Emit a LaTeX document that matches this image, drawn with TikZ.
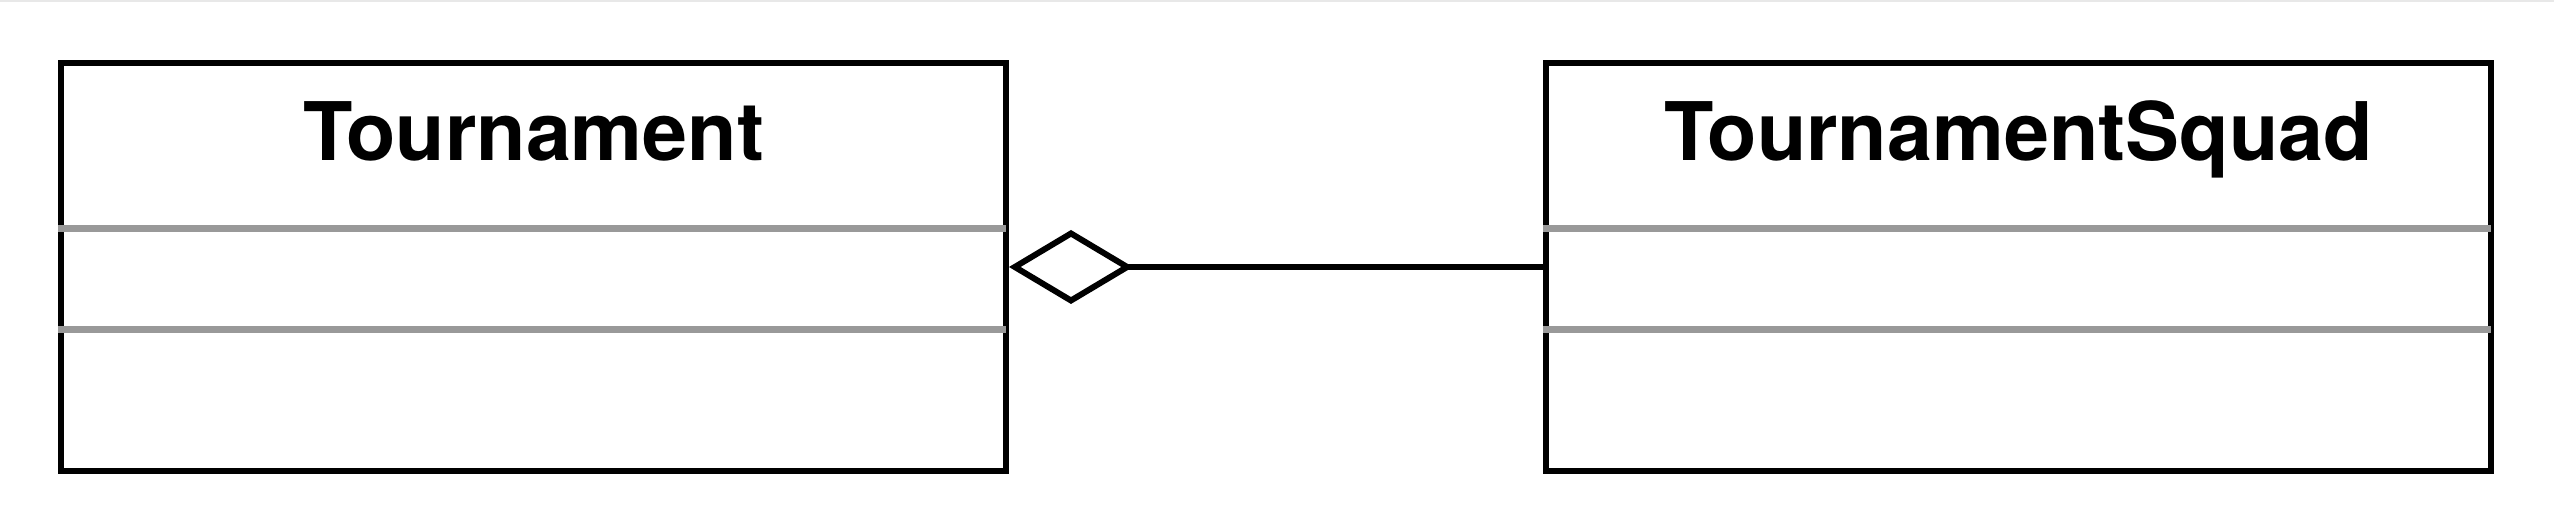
\documentclass[tikz,border=0pt]{standalone}
\usepackage{fontspec}
\setmainfont{TeX Gyre Heros}
\usepackage{xcolor}
\usepackage{tikz}
\usetikzlibrary{arrows.meta, positioning}
\definecolor{UMLGray}{RGB}{153,153,153}
\definecolor{EdgeGray}{RGB}{232,232,232}

\begin{document}
\begin{tikzpicture}[
    classbox/.style={rectangle, draw=black, line width=1.7pt, minimum width=9.45cm, minimum height=4.075cm, inner sep=0pt},
    title/.style={anchor=base, font=\fontsize{23}{28}\selectfont\bfseries},
    divider/.style={draw=UMLGray, line width=1.9pt},
    aggr/.style={line width=1.7pt, {Diamond[open, fill=white, length=1.24cm, width=0.74cm]}-}
]
\useasboundingbox (0,0) rectangle (25.54,5.32);
\draw[EdgeGray, line width=0.6pt] (0,5.31) -- (25.54,5.31);

\node[classbox] (tour) at (5.335,2.65) {};
\node[classbox] (squad) at (20.185,2.65) {};

\node[title] (tourTitle) at ([yshift=-1cm]tour.north) {Tournament};
\node[title] (squadTitle) at ([yshift=-1cm]squad.north) {TournamentSquad};

% attribute and operation compartments
\foreach \cls in {tour, squad} {
  \draw[divider] ([yshift=-1.68cm]\cls.north west) -- ([xshift=-0.85pt, yshift=-1.68cm]\cls.north east);
  \draw[divider] ([yshift=-2.69cm]\cls.north west) -- ([xshift=-0.85pt, yshift=-2.69cm]\cls.north east);
}

\draw[aggr] (tour.east) -- (squad.west);
\end{tikzpicture}
\end{document}
